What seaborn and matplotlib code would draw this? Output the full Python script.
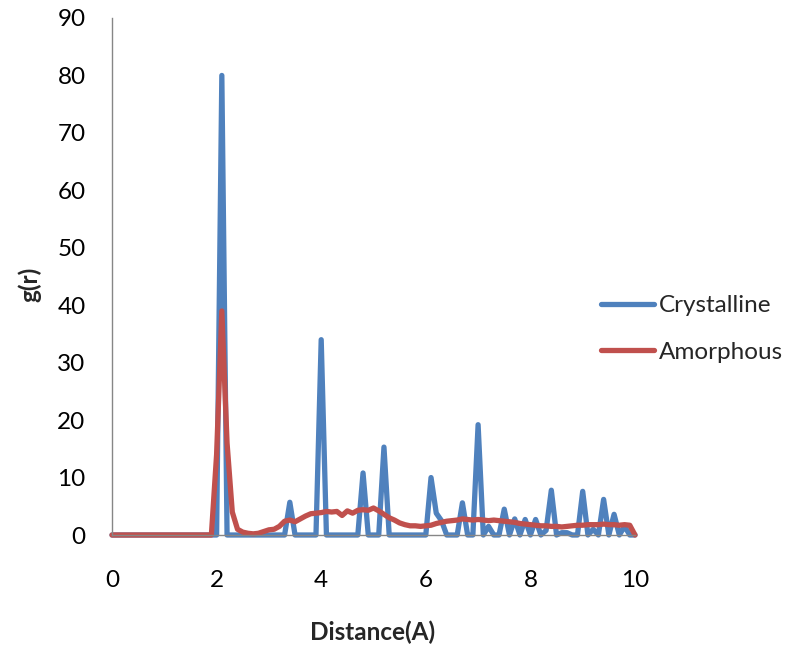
import numpy as np
import matplotlib
matplotlib.use('Agg')
import matplotlib.pyplot as plt
import seaborn as sns

# g(r) sampled every 0.1 A
distance = np.round(np.arange(0, 101) * 0.1, 1)

crystalline = [0] * 20 + [
    0, 80, 0, 0, 0, 0, 0, 0, 0, 0,          # 2.0 - 2.9
    0, 0, 0, 0, 5.7, 0, 0, 0, 0, 0,         # 3.0 - 3.9
    34, 0, 0, 0, 0, 0, 0, 0, 10.8, 0,       # 4.0 - 4.9
    0, 0, 15.3, 0, 0, 0, 0, 0, 0, 0,        # 5.0 - 5.9
    0, 10, 3.8, 2.5, 0, 0, 0, 5.6, 0, 0,    # 6.0 - 6.9
    19.2, 0, 1.5, 0, 0, 4.5, 0, 2.8, 0, 2.7,  # 7.0 - 7.9
    0, 2.7, 0, 0.8, 7.8, 0, 0.4, 0.4, 0, 0,   # 8.0 - 8.9
    7.6, 0, 1.0, 0, 6.2, 0, 3.6, 0, 1.5, 0,   # 9.0 - 9.9
    0]                                        # 10.0

amorphous = [0] * 20 + [
    14, 39, 16, 4, 1.0, 0.5, 0.3, 0.2, 0.3, 0.6,   # 2.0 - 2.9
    0.9, 1.0, 1.5, 2.4, 2.6, 2.3, 2.8, 3.3, 3.7, 3.8,  # 3.0 - 3.9
    3.9, 4.1, 4.0, 4.1, 3.4, 4.2, 3.8, 4.3, 4.4, 4.3,  # 4.0 - 4.9
    4.7, 4.2, 3.6, 3.0, 2.6, 2.1, 1.8, 1.6, 1.6, 1.5,  # 5.0 - 5.9
    1.6, 1.7, 2.0, 2.2, 2.4, 2.5, 2.6, 2.8, 2.7, 2.6,  # 6.0 - 6.9
    2.7, 2.6, 2.5, 2.6, 2.5, 2.4, 2.3, 2.2, 2.0, 1.9,  # 7.0 - 7.9
    1.8, 1.7, 1.6, 1.6, 1.5, 1.5, 1.4, 1.5, 1.6, 1.7,  # 8.0 - 8.9
    1.7, 1.8, 1.8, 1.8, 1.9, 1.8, 1.8, 1.7, 1.8, 1.7,  # 9.0 - 9.9
    0]                                                 # 10.0

sns.set_theme(style="white")
plt.rcParams['font.family'] = ['Lato', 'DejaVu Sans']
fs = 17.5

fig = plt.figure(figsize=(7.91, 6.45), dpi=100)
ax = fig.add_axes([112/791, 110/645, 523/791, 517/645])

sns.lineplot(x=distance, y=crystalline, ax=ax, color='#4F81BD', lw=3.8,
             label='Crystalline', solid_capstyle='round', solid_joinstyle='round', clip_on=False)
sns.lineplot(x=distance, y=amorphous, ax=ax, color='#C0504D', lw=3.8,
             label='Amorphous', solid_capstyle='round', solid_joinstyle='round', clip_on=False)

ax.set_xlim(0, 10)
ax.set_ylim(0, 90)
ax.set_xticks(range(0, 11, 2))
ax.set_yticks(range(0, 91, 10))
ax.tick_params(axis='both', length=0, labelsize=fs, colors='black')
ax.tick_params(axis='x', pad=25)
ax.tick_params(axis='y', pad=19)

for s in ['top', 'right']:
    ax.spines[s].set_visible(False)
for s in ['left', 'bottom']:
    ax.spines[s].set_color('#868686')
    ax.spines[s].set_linewidth(1.0)

ax.set_xlabel('Distance(A)', fontsize=fs, fontweight='bold')
ax.set_ylabel('g(r)', fontsize=fs, fontweight='bold')
ax.xaxis.set_label_coords(0.499, -0.1876)
ax.xaxis.label.set_va('center')
ax.yaxis.set_label_coords(-0.157, 0.4855)
ax.yaxis.label.set_va('center')
ax.yaxis.label.set_ha('center')

leg = ax.legend(loc='center left', bbox_to_anchor=(601/791, 316/645),
                bbox_transform=fig.transFigure, frameon=False, fontsize=fs,
                handlelength=2.2, handletextpad=0.2, labelspacing=1.03,
                borderpad=0, borderaxespad=0)
for line in leg.get_lines():
    line.set_linewidth(3.8)
    line.set_solid_capstyle('round')

fig.savefig('out.png', dpi=100)
